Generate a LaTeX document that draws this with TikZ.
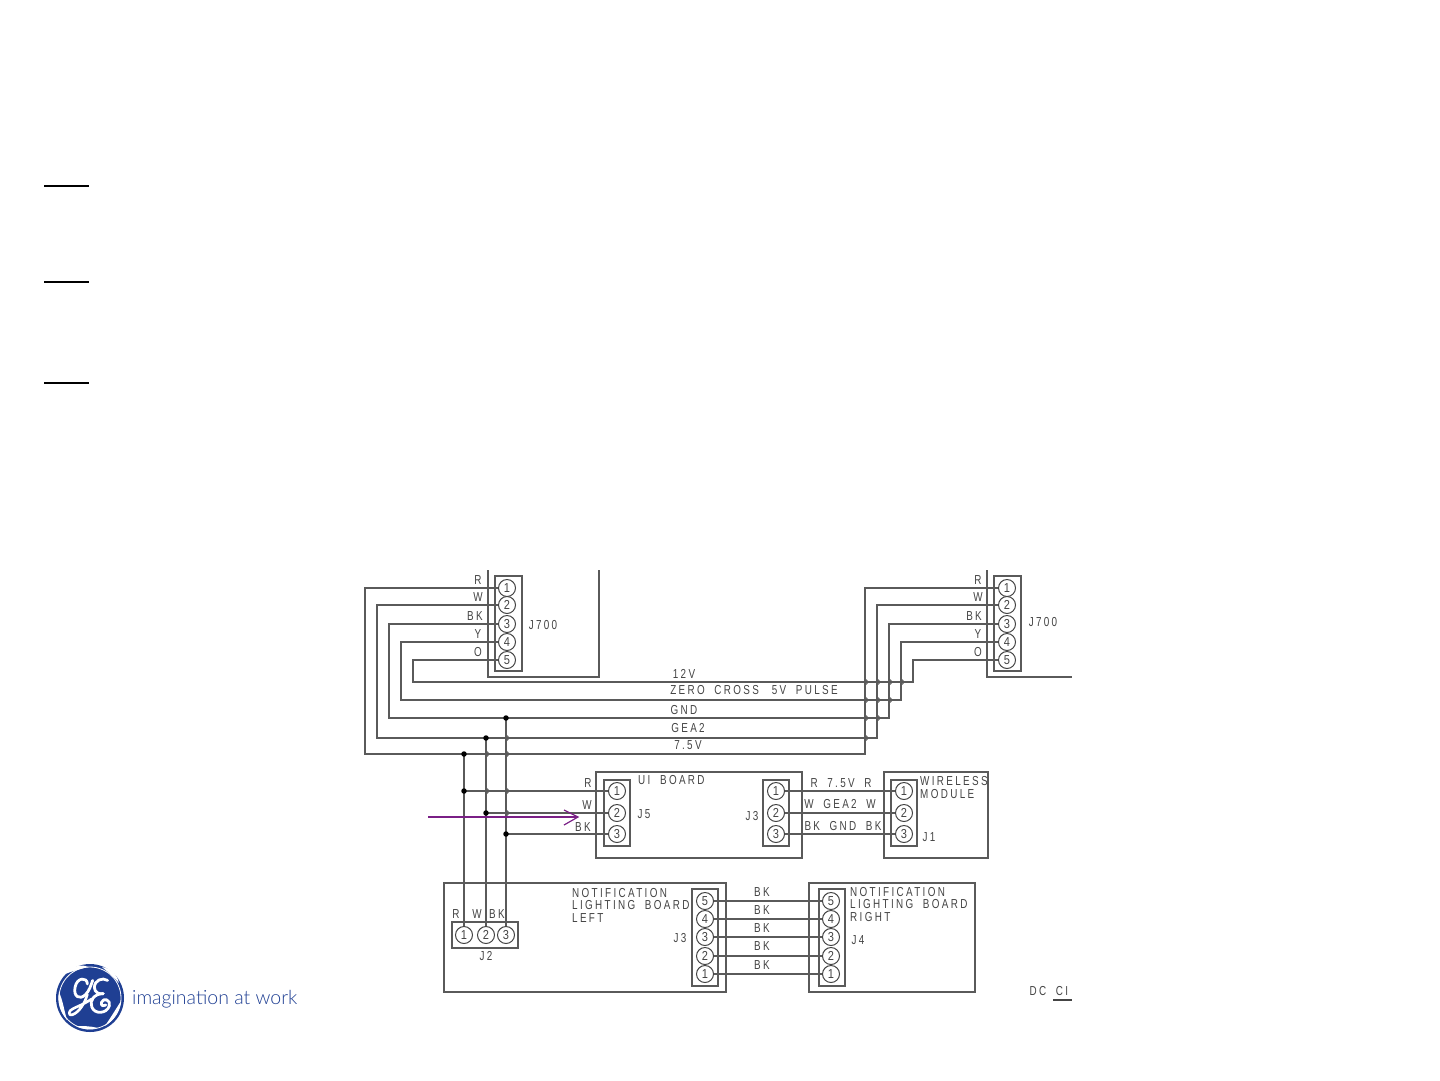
\documentclass[tikz,border=0pt]{standalone}
\usepackage{fontspec}
\setmainfont{Liberation Sans}
\newfontfamily\cad[LetterSpace=18,FakeStretch=0.76,WordSpace=1.9]{Liberation Sans}
\newfontfamily\cadnum[FakeStretch=0.85]{Liberation Sans}
\newfontfamily\tagfont{Lato Light}
\definecolor{ink}{HTML}{444444}
\definecolor{wirec}{HTML}{5A5A5A}
\definecolor{gebl}{HTML}{1F3F93}
\definecolor{arrowc}{HTML}{7A1F86}
\tikzset{
  wire/.style={draw=wirec,line width=1.3pt},
  box/.style={draw=wirec,line width=1.2pt},
  pinn/.style={circle,draw=ink,line width=1pt,minimum size=17pt,inner sep=0pt,font=\cadnum\fontsize{13}{13}\selectfont,text=ink,fill=white},
  lab/.style={inner sep=0pt,font=\cad\fontsize{13}{13}\selectfont,text=ink},
  labw/.style={lab,anchor=west},
  dot/.style={circle,fill=black,inner sep=0pt,minimum size=5.5pt},
  rule/.style={draw=black,line width=2pt},
  swirl/.style={draw=white,line cap=round,line join=round}
}
\newcommand{\hopat}[2]{\draw[wire,line width=1pt] (#1,#2-3) .. controls (#1+3.5,#2-1) and (#1+3.5,#2+1) .. (#1,#2+3);}
\begin{document}
\begin{tikzpicture}[x=1pt,y=-1pt]
\useasboundingbox (0,0) rectangle (1440,1080);
\fill[white] (0,0) rectangle (1440,1080);
% side rules
\draw[rule] (44,186) -- (89,186);
\draw[rule] (44,282) -- (89,282);
\draw[rule] (44,383) -- (89,383);
% boards
\draw[box] (488,570) -- (488,677) -- (599,677) -- (599,570);
\draw[box] (987,570) -- (987,677) -- (1072,677);
\draw[box] (495,576) rectangle (522,671);
\draw[box] (994,576) rectangle (1021,671);
\draw[box] (596,772) rectangle (802,858);
\draw[box] (604,780) rectangle (630,846);
\draw[box] (763,780) rectangle (789,846);
\draw[box] (884,772) rectangle (988,858);
\draw[box] (891,780) rectangle (917,846);
\draw[box] (444,883) rectangle (726,992);
\draw[box] (452,922) rectangle (518,948);
\draw[box] (692,889) rectangle (718,986);
\draw[box] (809,883) rectangle (975,992);
\draw[box] (819,889) rectangle (845,986);
% named points for the junctions
\coordinate (ja) at (506,718);
\coordinate (jb) at (486,738);
\coordinate (jc) at (464,754);
\coordinate (jd) at (464,791);
\coordinate (je) at (486,813);
\coordinate (jf) at (506,834);
% pins
\foreach \n/\y in {1/588,2/605,3/624,4/642,5/660}{
  \coordinate (L\n) at (507,\y);
  \coordinate (Q\n) at (1007,\y);
}
\foreach \n/\y in {1/791,2/813,3/834}{
  \coordinate (U\n) at (617,\y);
  \coordinate (T\n) at (776,\y);
  \coordinate (W\n) at (904,\y);
}
\foreach \n/\x in {1/464,2/486,3/506}{
  \coordinate (K\n) at (\x,935);
}
\foreach \n/\y in {5/901,4/919,3/937,2/956,1/974}{
  \coordinate (A\n) at (705,\y);
  \coordinate (B\n) at (831,\y);
}
% harness
\draw[wire] (L1) -- (365,588) -- (365,754) -- (865,754) -- (865,588) -- (Q1);
\draw[wire] (L2) -- (377,605) -- (377,738) -- (877,738) -- (877,605) -- (Q2);
\draw[wire] (L3) -- (389,624) -- (389,718) -- (889,718) -- (889,624) -- (Q3);
\draw[wire] (L4) -- (401,642) -- (401,700) -- (901,700) -- (901,642) -- (Q4);
\draw[wire] (L5) -- (413,660) -- (413,682) -- (913,682) -- (913,660) -- (Q5);
% drops
\draw[wire] (jc) -- (K1);
\draw[wire] (jb) -- (K2);
\draw[wire] (ja) -- (K3);
\draw[wire] (jd) -- (U1);
\draw[wire] (je) -- (U2);
\draw[wire] (jf) -- (U3);
\foreach \n in {1,2,3}{\draw[wire] (T\n) -- (W\n);}
\foreach \n in {1,2,3,4,5}{\draw[wire] (A\n) -- (B\n);}
% hops
\foreach \x/\y in {865/682,877/682,889/682,901/682,865/700,877/700,889/700,865/718,877/718,865/738,
                   486/754,506/738,506/754,486/791,506/791,506/813}{\hopat{\x}{\y}}
% junction dots and pin circles above the wires
\foreach \n in {ja,jb,jc,jd,je,jf}{\node[dot] (d\n) at (\n) {};}
\foreach \n in {1,2,3,4,5}{
  \node[pinn] (pL\n) at (L\n) {\n};
  \node[pinn] (pQ\n) at (Q\n) {\n};
  \node[pinn] (pA\n) at (A\n) {\n};
  \node[pinn] (pB\n) at (B\n) {\n};
}
\foreach \n in {1,2,3}{
  \node[pinn] (pU\n) at (U\n) {\n};
  \node[pinn] (pT\n) at (T\n) {\n};
  \node[pinn] (pW\n) at (W\n) {\n};
  \node[pinn] (pK\n) at (K\n) {\n};
}
% labels
\foreach \t/\x/\y in {R/478/580,W/478/597,BK/475/616,Y/478/634,O/478/652,J700/543/625,
  R/978/580,W/978/597,BK/974/616,Y/978/634,O/978/652,J700/1043/622,
  R/588/783,W/587/805,BK/583/827,J5/644/814,J3/752/816,J1/929/837,
  J3/680/938,J2/486/956,R/456/914,W/477/914,BK/497/914,J4/858/940,
  BK/762/892,BK/762/910,BK/762/928,BK/762/946,BK/762/965,DC/1038/991,CI/1062/991}{
  \node[lab] at (\x,\y) {\t};
}
\node[lab] (l12) at (684,674) {12V};
\node[lab] (lzc) at (754,690) {ZERO CROSS\hspace{13pt}5V PULSE};
\node[lab] (lgn) at (684,710) {GND};
\node[lab] (lge) at (688,728) {GEA2};
\node[lab] (l75) at (688,745) {7.5V};
\node[labw] (lui) at (638,780) {UI BOARD};
\node[lab] (lr) at (841,783) {R 7.5V R};
\node[lab] (lw) at (840,804) {W GEA2 W};
\node[lab] (lb) at (843,826) {BK GND BK};
\node[labw] (wm1) at (920,781) {WIRELESS};
\node[labw] (wm2) at (920,794) {MODULE};
\node[labw] (nl1) at (572,893) {NOTIFICATION};
\node[labw] (nl2) at (572,905) {LIGHTING BOARD};
\node[labw] (nl3) at (572,918) {LEFT};
\node[labw] (nr1) at (850,892) {NOTIFICATION};
\node[labw] (nr2) at (850,904) {LIGHTING BOARD};
\node[labw] (nr3) at (850,917) {RIGHT};
\draw[draw=ink,line width=1.2pt] (1053,1000) -- (1072,1000);
% purple arrow
\coordinate (as) at (428,817);
\coordinate (ae) at (578,817);
\draw[draw=arrowc,line width=1.2pt] (as) -- (ae);
\draw[draw=arrowc,line width=1.2pt] (564,810) -- (ae) -- (564,825);
% logo
\node[circle,fill=gebl,minimum size=68pt,inner sep=0pt] (logo) at (90,998) {};
\draw[white,line width=0.8pt] (90,998) circle (31);
\begin{scope}[shift={(90,998)}]
  \fill[white] (-25,-24) .. controls (-17,-33) and (-8,-34) .. (-2,-31) .. controls (-10,-29) and (-17,-27) .. (-25,-24);
  \fill[white] (12,-31) .. controls (20,-30) and (27,-24) .. (29,-15) .. controls (24,-21) and (18,-26) .. (12,-31);
  \fill[white] (-31,-6) .. controls (-33,4) and (-30,14) .. (-23,22) .. controls (-26,12) and (-27,3) .. (-31,-6);
  \fill[white] (31,3) .. controls (30,13) and (24,22) .. (15,28) .. controls (21,19) and (26,11) .. (31,3);
  \fill[white] (-14,28) .. controls (-7,32) and (1,32) .. (8,30) .. controls (1,28) and (-7,28) .. (-14,28);
\end{scope}
\begin{scope}[shift={(90,998)},scale=0.88]
  % G
  \draw[swirl,line width=2.8pt] (-3,-16) .. controls (-3,-24) and (-15,-24) .. (-17,-12)
     .. controls (-19,-2) and (-12,3) .. (-5,-4) .. controls (-1,-8) and (1,-14) .. (3,-20);
  \draw[swirl,line width=2.6pt] (-3,-4) .. controls (-6,6) and (-12,16) .. (-20,19) .. controls (-25,21) and (-25,14) .. (-19,12) .. controls (-13,9) and (-7,7) .. (2,1);
  % E
  \draw[swirl,line width=2.8pt] (20,-20) .. controls (14,-24) and (5,-20) .. (5,-12)
     .. controls (5,-6) and (11,-4) .. (15,-5);
  \draw[swirl,line width=2.8pt] (15,-5) .. controls (5,-5) and (-1,3) .. (2,10) .. controls (5,19) and (19,18) .. (22,9)
     .. controls (24,2) and (15,-1) .. (13,5) .. controls (12,9) and (16,10) .. (18,8);
\end{scope}
\node[anchor=west,inner sep=0pt,text=gebl,font=\tagfont\fontsize{19.5}{19.5}\selectfont] (tag) at (132,999.5) {imaginat{}ion at work};
\end{tikzpicture}
\end{document}
